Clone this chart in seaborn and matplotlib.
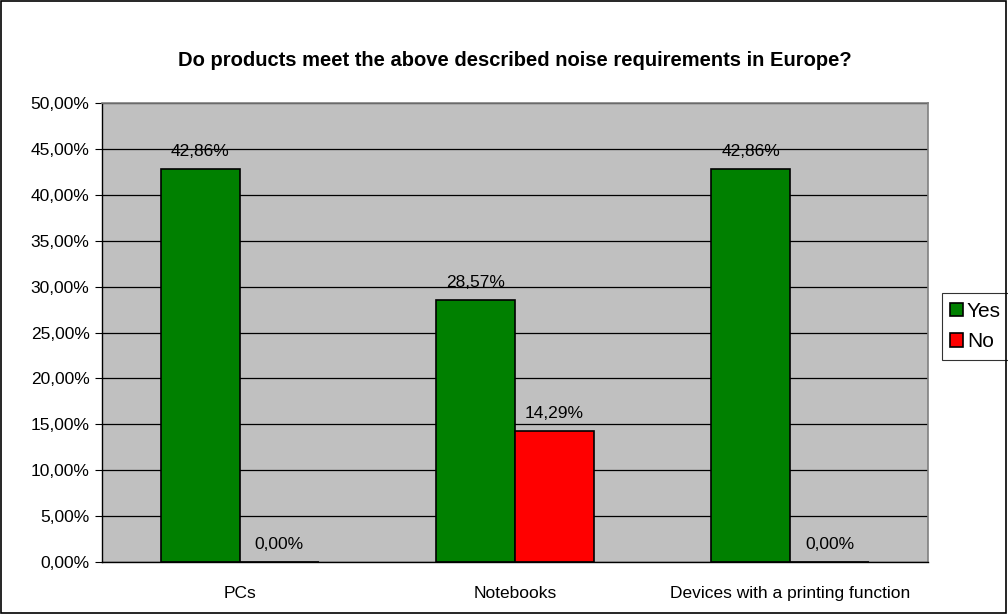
import matplotlib
matplotlib.use("Agg")
import matplotlib.pyplot as plt
import seaborn as sns
import pandas as pd
import numpy as np
from matplotlib.ticker import FuncFormatter, FixedLocator

categories = ["PCs", "Notebooks", "Devices with a printing function"]
yes_values = [42.86, 28.57, 42.86]
no_values = [0.00, 14.29, 0.00]
series = ["Yes", "No"]

df = pd.DataFrame({
    "category": categories * 2,
    "answer": ["Yes"] * 3 + ["No"] * 3,
    "value": yes_values + no_values,
})

sns.set_style("white")
plt.rcParams["font.family"] = ["Liberation Sans", "DejaVu Sans"]
plt.rcParams["text.color"] = "black"
plt.rcParams["xtick.color"] = "black"
plt.rcParams["ytick.color"] = "black"

fig = plt.figure(figsize=(10.08, 6.14), dpi=100)
ax = fig.add_axes([0.1012, 0.0847, 0.8194, 0.7475])

sns.barplot(data=df, x="category", y="value", hue="answer", hue_order=series,
            palette={"Yes": "#008000", "No": "#FF0000"}, width=0.575,
            saturation=1, edgecolor="black", linewidth=1.2, ax=ax, legend=True)

ax.set_facecolor("#C0C0C0")
ax.set_ylim(0, 50)
ax.set_xlim(-0.5, 2.5)
ax.set_yticks(np.arange(0, 51, 5))
ax.yaxis.set_major_formatter(FuncFormatter(lambda v, p: f"{v:.2f}%".replace(".", ",")))
ax.yaxis.grid(True, color="black", linewidth=0.9)
ax.set_axisbelow(True)
ax.set_xlabel("")
ax.set_ylabel("")

# category-boundary ticks on x
ax.set_xticks([0, 1, 2])
ax.set_xticklabels(categories, fontsize=12.5)
ax.tick_params(axis="x", length=0, pad=17)
ax.xaxis.set_minor_locator(FixedLocator([-0.5, 0.5, 1.5, 2.5]))
ax.tick_params(axis="x", which="minor", direction="out", length=5, width=0.8, color="black")
ax.tick_params(axis="y", direction="out", length=5, width=0.8, color="black",
               labelsize=12.5, left=True, pad=4)

for side in ["top", "right"]:
    ax.spines[side].set_color("#808080")
    ax.spines[side].set_linewidth(1.2)
for side in ["left", "bottom"]:
    ax.spines[side].set_color("black")
    ax.spines[side].set_linewidth(1.0)

for cont in ax.containers:
    labels = [f"{b.get_height():.2f}%".replace(".", ",") for b in cont]
    ax.bar_label(cont, labels=labels, padding=7, fontsize=12.5)

ax.set_title("Do products meet the above described noise requirements in Europe?",
             fontsize=14.5, fontweight="bold", pad=27)

leg = ax.legend(loc="center left", bbox_to_anchor=(1.017, 0.513), frameon=True,
                fancybox=False, edgecolor="black", fontsize=15,
                handlelength=0.6, handleheight=0.6, handletextpad=0.2,
                borderpad=0.4, labelspacing=0.55, borderaxespad=0)
leg.get_frame().set_linewidth(0.8)

fig.patches.append(plt.Rectangle((0.001, 0.001), 0.997, 0.997, transform=fig.transFigure,
                                 fill=False, edgecolor="black", linewidth=1.2))

fig.savefig("out.png", dpi=100)
